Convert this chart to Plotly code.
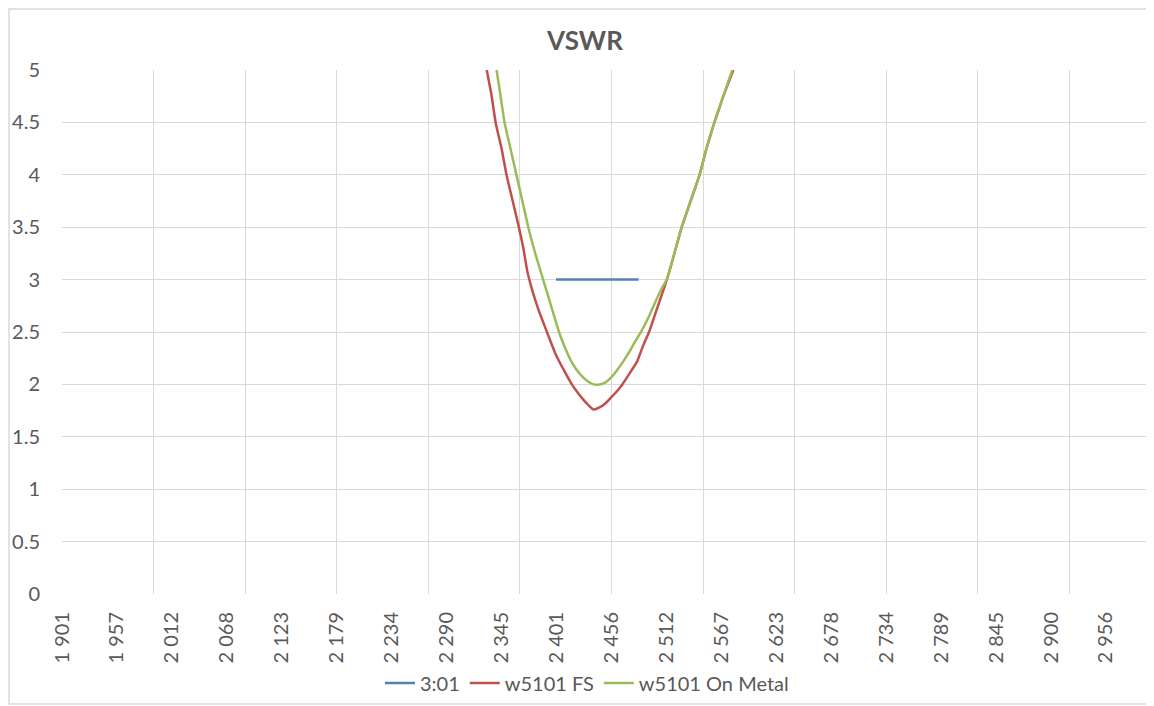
import plotly.graph_objects as go

# ---- data ----
band_freq = [2400, 2483.5]
band_vswr = [3, 3]

fs_freq = [2326, 2330, 2335, 2339, 2345, 2350, 2356, 2362, 2367, 2371, 2376, 2382, 2390, 2400,
           2410, 2416, 2422, 2428, 2433, 2438, 2444, 2450, 2456, 2462, 2467, 2474, 2482,
           2488, 2494, 2503, 2512, 2519, 2527, 2536, 2545, 2552, 2560, 2569, 2579, 2582]
fs_vswr = [5.2, 5.0, 4.75, 4.5, 4.25, 4.0, 3.76, 3.52, 3.3, 3.08, 2.9, 2.72, 2.52, 2.28,
           2.10, 2.0, 1.92, 1.85, 1.8, 1.76, 1.78, 1.82, 1.88, 1.94, 2.0, 2.1, 2.22,
           2.37, 2.5, 2.75, 3.0, 3.23, 3.5, 3.75, 4.0, 4.25, 4.5, 4.75, 5.0, 5.1]

metal_freq = [2337, 2340, 2344, 2348, 2354, 2360, 2366, 2372, 2379, 2387, 2395, 2403, 2410,
              2416, 2424, 2432, 2438, 2444, 2450, 2456, 2462, 2468, 2474, 2480, 2487, 2494,
              2500, 2507, 2512, 2519, 2527, 2536, 2545, 2552, 2560, 2569, 2578, 2581]
metal_vswr = [5.2, 5.0, 4.75, 4.5, 4.25, 4.0, 3.75, 3.5, 3.25, 3.0, 2.75, 2.5, 2.33,
              2.21, 2.1, 2.03, 2.0, 2.0, 2.02, 2.07, 2.14, 2.22, 2.31, 2.41, 2.52, 2.65,
              2.78, 2.92, 3.0, 3.23, 3.5, 3.75, 4.0, 4.25, 4.5, 4.75, 5.0, 5.1]

x_tick_labels = ["1 901", "1 957", "2 012", "2 068", "2 123", "2 179", "2 234", "2 290",
                 "2 345", "2 401", "2 456", "2 512", "2 567", "2 623", "2 678", "2 734",
                 "2 789", "2 845", "2 900", "2 956"]
x_first, x_label_step, x_grid_step = 1901, 55.5, 92.5
x_range = [1901, 3000]
y_range = [0, 5]

series_names = ["3:01", "w5101 FS", "w5101 On Metal"]
series_colors = ["#4F81BD", "#C0504D", "#9BBB59"]

FONT = "Lato"
TXT = "#595959"
GRID = "#D9D9D9"

fig = go.Figure()
for name, color, xs, ys in zip(series_names, series_colors,
                               [band_freq, fs_freq, metal_freq],
                               [band_vswr, fs_vswr, metal_vswr]):
    fig.add_trace(go.Scatter(x=xs, y=ys, mode="lines", name=name,
                             line=dict(color=color, width=2.5, shape="spline", smoothing=0.5)))

tickvals = [x_first + x_label_step * k for k in range(len(x_tick_labels))]

fig.update_layout(
    width=1154, height=706,
    paper_bgcolor="white", plot_bgcolor="white",
    margin=dict(l=54, r=12, t=62, b=120, autoexpand=False),
    font=dict(family=FONT, color=TXT, size=20),
    title=dict(text="<b>VSWR</b>", x=0.5, xanchor="center", y=0.953, yanchor="middle",
               font=dict(family=FONT, size=26, color=TXT)),
    showlegend=True,
    legend=dict(orientation="h", x=0.4825, xanchor="center", y=-0.17, yanchor="middle",
                font=dict(family=FONT, size=20, color=TXT), itemwidth=30),
    shapes=[dict(type="rect", xref="paper", yref="paper",
                 x0=-0.0487, x1=1.01, y0=-0.2099, y1=1.1164,
                 line=dict(color="#D9D9D9", width=1.5), fillcolor="rgba(0,0,0,0)", layer="below")],
)

fig.update_xaxes(
    range=x_range, tickmode="array", tickvals=tickvals, ticktext=x_tick_labels,
    tickangle=-90, showgrid=False, ticks="", zeroline=False, showline=False,
    ticklabelstandoff=13, automargin=False,
    tickfont=dict(family=FONT, size=20, color=TXT),
    minor=dict(tickmode="linear", tick0=x_first, dtick=x_grid_step, showgrid=True,
               gridcolor=GRID, gridwidth=1, ticks=""),
)
fig.update_yaxes(
    range=y_range, dtick=0.5, tick0=0, showgrid=True, gridcolor=GRID, gridwidth=1,
    zeroline=False, showline=False, ticks="", ticklabelstandoff=21, automargin=False,
    tickfont=dict(family=FONT, size=20, color=TXT),
)

fig.write_html("out.html")
